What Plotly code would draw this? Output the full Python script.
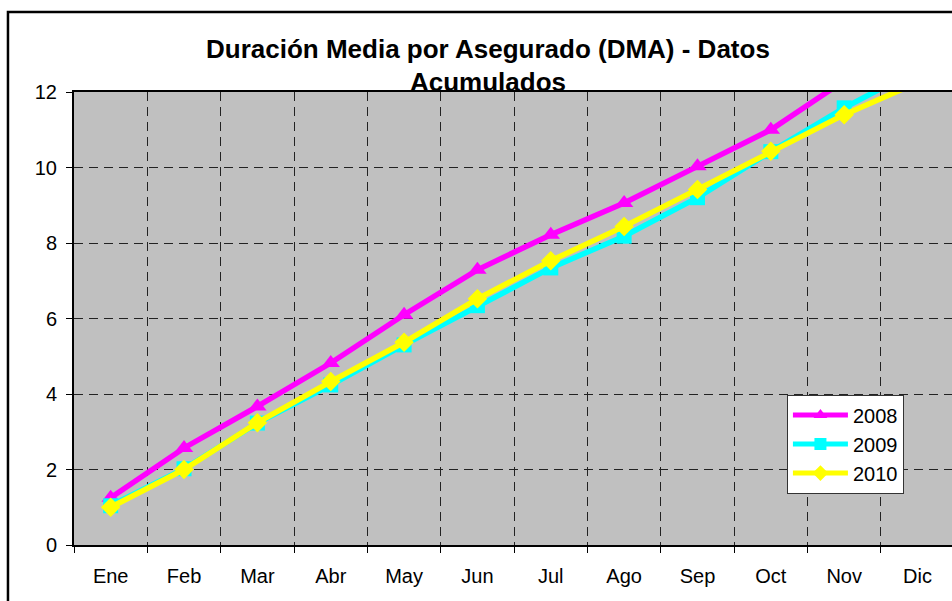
import plotly.graph_objects as go

months = ["Ene", "Feb", "Mar", "Abr", "May", "Jun", "Jul", "Ago", "Sep", "Oct", "Nov", "Dic"]
y2008 = [1.25, 2.57, 3.67, 4.82, 6.10, 7.29, 8.22, 9.06, 10.03, 11.00, 12.30, 13.30]
y2009 = [1.04, 2.02, 3.23, 4.24, 5.30, 6.34, 7.34, 8.18, 9.20, 10.42, 11.58, 12.60]
y2010 = [1.00, 2.00, 3.24, 4.33, 5.37, 6.52, 7.53, 8.44, 9.42, 10.43, 11.40, 12.25]
y_ticks = [0, 2, 4, 6, 8, 10, 12]
title_line1 = "Duración Media por Asegurado (DMA) - Datos"
title_line2 = "Acumulados"

FONT = "Liberation Sans, Arial, sans-serif"

series = [
    ("2008", y2008, "#FF00FF", "triangle-up"),
    ("2009", y2009, "#00FFFF", "square"),
    ("2010", y2010, "#FFFF00", "diamond"),
]

fig = go.Figure()
for name, ys, color, sym in series:
    fig.add_trace(go.Scatter(
        x=months, y=ys, name=name, mode="lines+markers",
        line=dict(color=color, width=5.5),
        marker=dict(symbol=sym, size=16 if sym == "triangle-up" else 15, color=color),
        cliponaxis=True,
    ))

fig.update_layout(
    width=952, height=601,
    margin=dict(l=74, r=0, t=92, b=56),
    paper_bgcolor="white",
    plot_bgcolor="#C0C0C0",
    font=dict(family=FONT, size=20, color="black"),
    showlegend=True,
    legend=dict(
        x=0.812, y=0.332, xanchor="left", yanchor="top",
        bgcolor="white", bordercolor="#333333", borderwidth=1,
        font=dict(family=FONT, size=20, color="black"),
        itemsizing="constant", itemwidth=55,
        tracegroupgap=5,
    ),
    annotations=[
        dict(text="<b>" + title_line1 + "</b>", xref="paper", yref="paper",
             x=0.4715, y=1.0949, xanchor="center", yanchor="middle",
             showarrow=False, font=dict(family=FONT, size=26, color="black")),
        dict(text="<b>" + title_line2 + "</b>", xref="paper", yref="paper",
             x=0.4715, y=1.022, xanchor="center", yanchor="middle",
             showarrow=False, font=dict(family=FONT, size=26, color="black")),
    ],
    shapes=[
        dict(type="rect", xref="paper", yref="paper",
             x0=-0.0752, x1=1.05, y0=-0.2, y1=1.1766,
             line=dict(color="black", width=2.5), fillcolor="rgba(0,0,0,0)",
             layer="above"),
    ],
)

fig.update_xaxes(
    type="category", categoryorder="array", categoryarray=months,
    range=[-0.5, len(months) - 0.53],
    tickson="boundaries", ticks="outside", ticklen=6, tickcolor="black", tickwidth=1,
    showgrid=True, gridcolor="#222222", gridwidth=1, griddash="9px,6px",
    showline=True, linecolor="black", linewidth=2, mirror=True,
    tickfont=dict(family=FONT, size=20, color="black"),
    ticklabelstandoff=12,
)
fig.update_yaxes(
    range=[0, 12], tickvals=y_ticks, ticktext=[str(v) for v in y_ticks],
    ticks="outside", ticklen=6, tickcolor="black", tickwidth=1,
    showgrid=True, gridcolor="#222222", gridwidth=1, griddash="9px,6px",
    showline=True, linecolor="black", linewidth=2, mirror=False,
    zeroline=False,
    tickfont=dict(family=FONT, size=20, color="black"),
    ticklabelstandoff=5,
)

fig.write_html(
    "out.html",
    config={"displayModeBar": False},
    post_script="document.body.style.margin='0';document.body.style.overflow='hidden';document.documentElement.style.overflow='hidden';",
)
